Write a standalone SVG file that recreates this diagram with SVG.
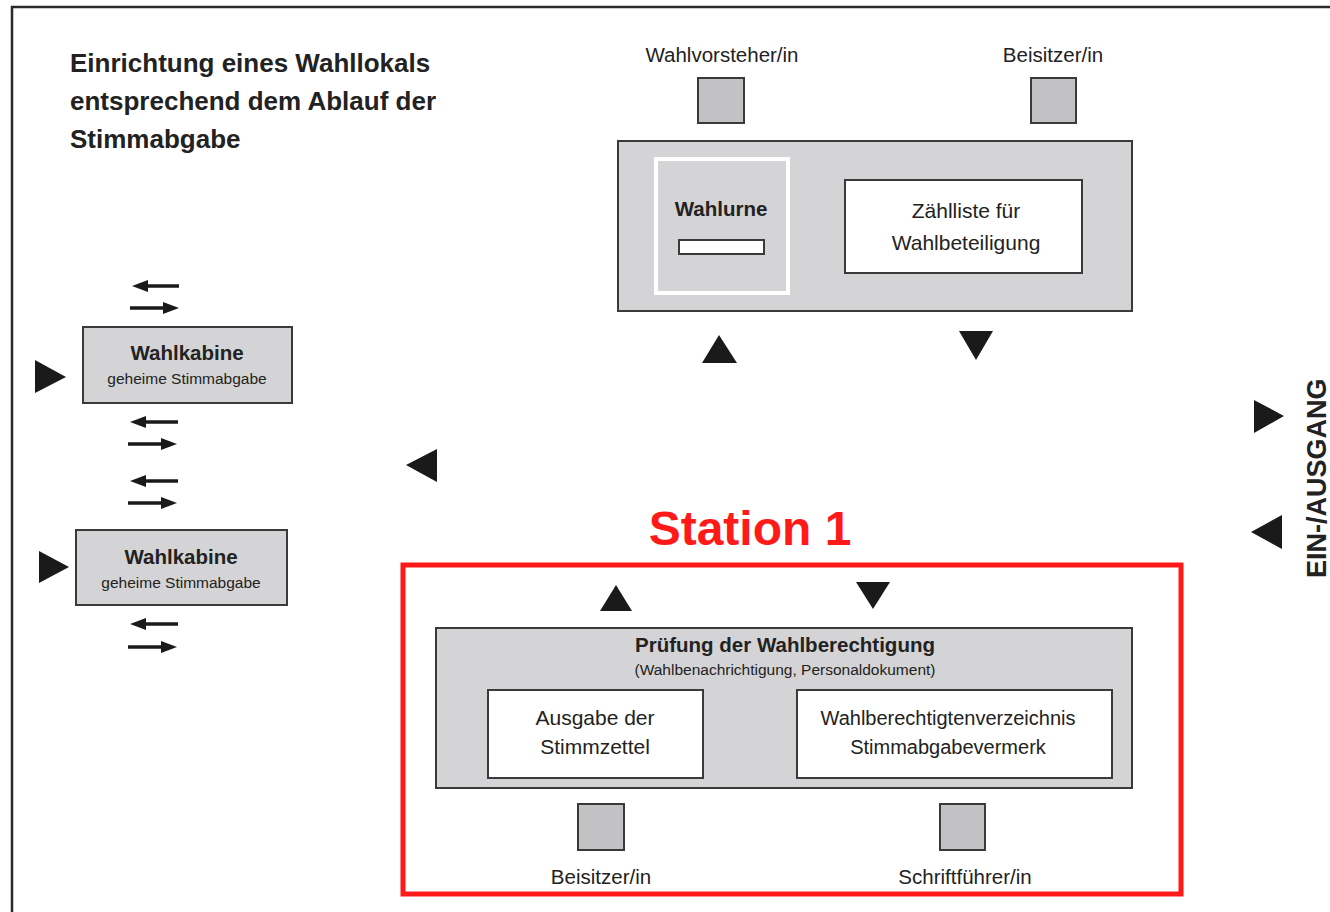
<svg xmlns="http://www.w3.org/2000/svg" width="1330" height="912" viewBox="0 0 1330 912">
<defs>
<style>
text{font-family:"Liberation Sans",Arial,sans-serif;fill:#222;}
.t{font-size:20.5px;text-anchor:middle;}
.b{font-weight:bold;}
.s{font-size:15.5px;text-anchor:middle;}
.gbox{fill:#d4d4d6;stroke:#3a3a3a;stroke-width:2;}
.wbox{fill:#fff;stroke:#3a3a3a;stroke-width:2;}
.sq{fill:#c2c2c4;stroke:#3a3a3a;stroke-width:2;}
.tri{fill:#1a1a1a;}
.ar{stroke:#1a1a1a;stroke-width:3.5;fill:none;}
</style>
<marker id="ah" viewBox="0 0 16 12" refX="2" refY="6" markerWidth="16" markerHeight="12" markerUnits="userSpaceOnUse" orient="auto">
<path d="M0,0 L16,6 L0,12 z" fill="#1a1a1a"/>
</marker>
</defs>
<rect width="1330" height="912" fill="#fff"/>
<path d="M12,912 V7 H1330" fill="none" stroke="#2a2a2a" stroke-width="2.5"/>

<g id="title">
<text class="b" x="70" y="72" style="font-size:26px">Einrichtung eines Wahllokals</text>
<text class="b" x="70" y="110" style="font-size:26px">entsprechend dem Ablauf der</text>
<text class="b" x="70" y="148" style="font-size:26px">Stimmabgabe</text>
</g>

<g id="wahlvorsteher">
<text class="t" x="722" y="62">Wahlvorsteher/in</text>
<rect class="sq" x="698" y="78" width="46" height="45"/>
</g>
<g id="beisitzer-top">
<text class="t" x="1053" y="62">Beisitzer/in</text>
<rect class="sq" x="1031" y="78" width="45" height="45"/>
</g>

<g id="urnentisch">
<rect class="gbox" x="618" y="141" width="514" height="170"/>
<g id="wahlurne">
<rect x="656" y="159" width="132" height="134" fill="#d4d4d6" stroke="#fff" stroke-width="4"/>
<text class="t b" x="721" y="216">Wahlurne</text>
<rect class="wbox" x="679" y="240" width="85" height="14"/>
</g>
<g id="zaehlliste">
<rect class="wbox" x="845" y="180" width="237" height="93"/>
<text class="t" x="966" y="218" style="font-size:21px">Zählliste für</text>
<text class="t" x="966" y="250" style="font-size:21px">Wahlbeteiligung</text>
</g>
</g>

<g id="wahlkabine1">
<rect class="gbox" x="83" y="327" width="209" height="76"/>
<text class="t b" x="187" y="360">Wahlkabine</text>
<text class="s" x="187" y="384">geheime Stimmabgabe</text>
</g>
<g id="wahlkabine2">
<rect class="gbox" x="76" y="530" width="211" height="75"/>
<text class="t b" x="181" y="564">Wahlkabine</text>
<text class="s" x="181" y="588">geheime Stimmabgabe</text>
</g>

<g id="eingang">
<text class="b" transform="translate(1326,578) rotate(-90)" style="font-size:27px">EIN-/AUSGANG</text>
</g>

<g id="station1">
<text x="750" y="545" text-anchor="middle" style="font-size:48px;font-weight:bold;fill:#ff1a1a">Station 1</text>
<rect x="403" y="565" width="778" height="329" fill="none" stroke="#ff1a1a" stroke-width="5"/>
<g id="pruefung">
<rect class="gbox" x="436" y="628" width="696" height="160"/>
<text class="t b" x="785" y="652">Prüfung der Wahlberechtigung</text>
<text class="s" x="785" y="675">(Wahlbenachrichtigung, Personaldokument)</text>
</g>
<g id="ausgabe">
<rect class="wbox" x="488" y="690" width="215" height="88"/>
<text class="t" x="595" y="725" style="font-size:21px">Ausgabe der</text>
<text class="t" x="595" y="754" style="font-size:21px">Stimmzettel</text>
</g>
<g id="verzeichnis">
<rect class="wbox" x="797" y="690" width="315" height="88"/>
<text class="t" x="948" y="725" style="font-size:20px">Wahlberechtigtenverzeichnis</text>
<text class="t" x="948" y="754" style="font-size:20px">Stimmabgabevermerk</text>
</g>
<g id="beisitzer-bottom">
<rect class="sq" x="578" y="804" width="46" height="46"/>
<text class="t" x="601" y="884">Beisitzer/in</text>
</g>
<g id="schriftfuehrer">
<rect class="sq" x="940" y="804" width="45" height="46"/>
<text class="t" x="965" y="884">Schriftführer/in</text>
</g>
</g>

<g id="connectors">
<polygon class="tri" points="702,363 737,363 719,335"/>
<polygon class="tri" points="959,331 993,331 976,360"/>
<polygon class="tri" points="437,449 437,482 406,465"/>
<polygon class="tri" points="35,360 35,393 66,377"/>
<polygon class="tri" points="39,551 39,583 69,567"/>
<polygon class="tri" points="1254,400 1254,433 1284,416"/>
<polygon class="tri" points="1282,515 1282,549 1251,532"/>
<polygon class="tri" points="600,611 632,611 616,585"/>
<polygon class="tri" points="856,582 890,582 873,609"/>
<line class="ar" x1="179" y1="286" x2="146" y2="286" marker-end="url(#ah)"/>
<line class="ar" x1="130" y1="308" x2="165" y2="308" marker-end="url(#ah)"/>
<line class="ar" x1="178" y1="422" x2="144" y2="422" marker-end="url(#ah)"/>
<line class="ar" x1="128" y1="444" x2="163" y2="444" marker-end="url(#ah)"/>
<line class="ar" x1="178" y1="481" x2="144" y2="481" marker-end="url(#ah)"/>
<line class="ar" x1="128" y1="503" x2="163" y2="503" marker-end="url(#ah)"/>
<line class="ar" x1="178" y1="624" x2="144" y2="624" marker-end="url(#ah)"/>
<line class="ar" x1="128" y1="647" x2="163" y2="647" marker-end="url(#ah)"/>
</g>
</svg>
